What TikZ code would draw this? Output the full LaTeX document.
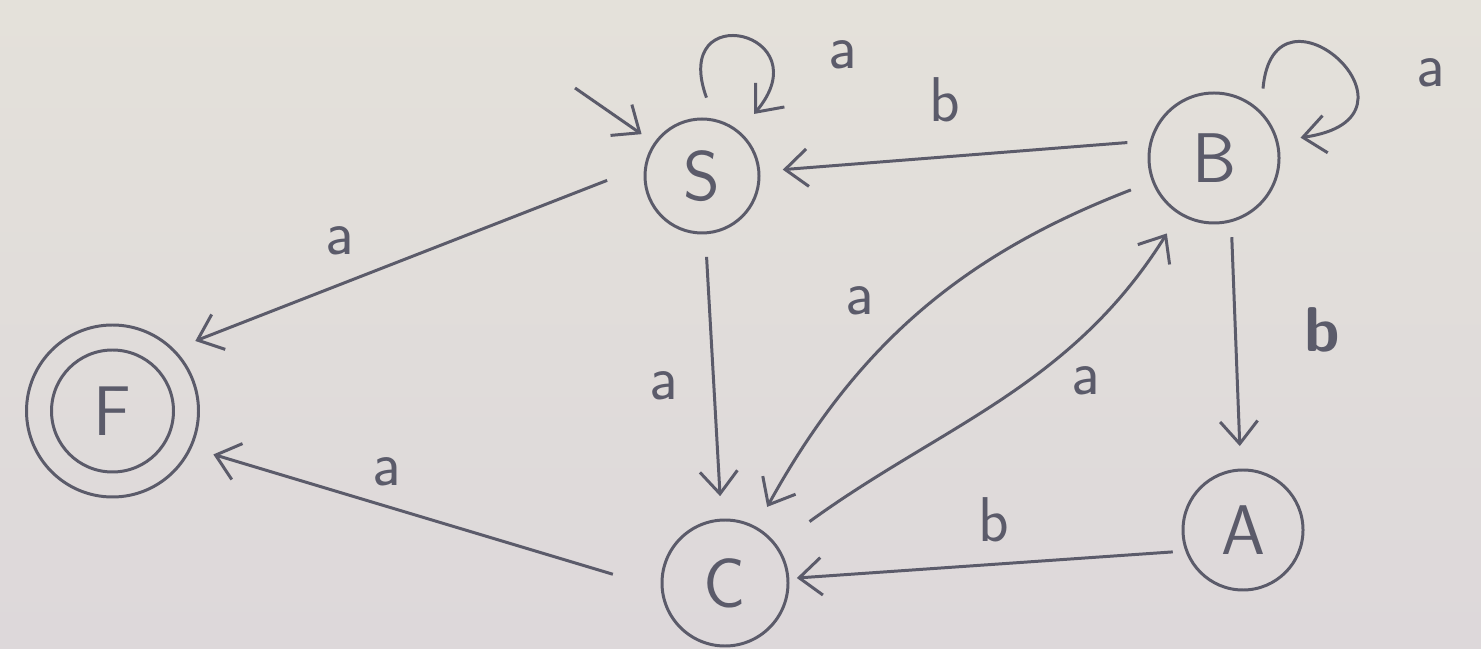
\documentclass[tikz,border=0pt]{standalone}
\usepackage{xcolor}
\usepackage{tikz}
\usetikzlibrary{arrows.meta}
\definecolor{inkcolor}{HTML}{5B5B6A}
\definecolor{papertop}{HTML}{E4E1DA}
\definecolor{paperbottom}{HTML}{DDD8DA}

\begin{document}
\begin{tikzpicture}[
        state/.style={circle, draw=inkcolor, line width=1.7pt, text=inkcolor, inner sep=0pt, font=\sffamily\fontsize{40}{44}\selectfont},
        trans/.style={draw=inkcolor, line width=1.7pt, -{Straight Barb[length=4.5mm,width=7.5mm]}, shorten <=4.5mm, shorten >=4.5mm},
        lbl/.style={text=inkcolor, inner sep=0pt, font=\sffamily\fontsize{36}{40}\selectfont}
    ]
            \shade[top color=papertop, bottom color=paperbottom] (0,0) rectangle (29.62,12.96);
            \useasboundingbox (0,0) rectangle (29.62,12.96);

            \node[state, minimum size=2.28cm] (S) at (14.04,9.44) {S};
            \node[state, minimum size=2.6cm] (B) at (24.28,9.8) {B};
            \node[state, minimum size=2.52cm] (C) at (14.5,1.3) {C};
            \node[state, minimum size=2.4cm] (A) at (24.86,2.36) {A};
            \node[state, minimum size=2.44cm] (Fin) at (2.25,4.74) {F};
            \node[state, minimum size=3.44cm] (F) at (Fin) {};

            \coordinate (start) at (11.5,11.2);
            \draw[trans, shorten <=0pt, shorten >=3mm] (start) -- (S);
            \draw[trans] (S.78) .. controls +(110:2.6) and +(50:2.6) .. node[lbl, midway, xshift=2.02cm, yshift=-0.25cm] {a} (S.50);
            \draw[trans] (B.45) .. controls +(85:2.9) and +(8:3.3) .. node[lbl, midway, xshift=1.9cm, yshift=-0.2cm] {a} (B.15);
            \draw[trans] (B.165) -- node[lbl, midway, xshift=-0.2cm, yshift=1.12cm] {b} (S);
            \draw[trans, shorten <=8mm] (S.170) -- node[lbl, midway, xshift=-1.39cm, yshift=0.33cm] {a} (F.45);
            \draw[trans] (S) -- node[lbl, midway, xshift=-1cm, yshift=-0.18cm] {a} (C);
            \draw[trans] (B) to[bend right=20] node[lbl, midway, xshift=-1.2cm, yshift=0.28cm] {a} (C);
            \draw[trans, shorten <=8mm] (C) to[out=36, in=238] node[lbl, midway, xshift=1.74cm, yshift=0.38cm] {a} (B);
            \draw[trans, shorten <=3mm] (B.-75) -- node[lbl, midway, xshift=1.72cm, yshift=0.3cm, font=\sffamily\bfseries\fontsize{36}{40}\selectfont] {b} (A);
            \draw[trans, shorten <=2.5mm, shorten >=1.5mm] (A.200) -- node[lbl, midway, xshift=0.14cm, yshift=0.9cm] {b} (C);
            \draw[trans, shorten <=1cm] (C.185) -- node[lbl, midway, xshift=-0.8cm, yshift=0.94cm] {a} (F.-25);
        \end{tikzpicture}
\end{document}
